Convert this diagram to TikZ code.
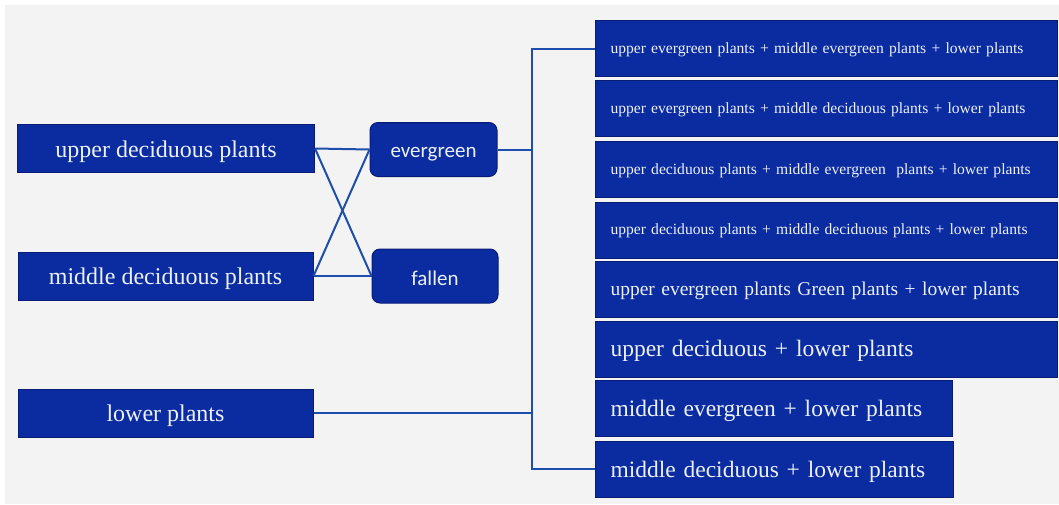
\documentclass[tikz,border=0pt]{standalone}
\usepackage{fontspec}
\setmainfont{Liberation Serif}
\newfontfamily\calfont{Carlito}
\definecolor{veg}{RGB}{10, 44, 160}
\definecolor{vegdark}{RGB}{8, 28, 118}
\definecolor{wire}{RGB}{30, 78, 172}
\definecolor{paper}{RGB}{243, 243, 243}
\definecolor{txt}{RGB}{236, 240, 250}
\newcommand\sinkby[2]{\raisebox{-#1}[\height][\depth]{#2}}
\usetikzlibrary{calc}

\begin{document}
\begin{tikzpicture}[x=1pt,y=-1pt,
	layer/.style={draw=vegdark,fill=veg,text=txt,line width=1pt,inner sep=0pt,
		minimum width=295pt,minimum height=48pt,font=\fontsize{24}{28}\selectfont},
	leaf/.style={draw=vegdark,fill=veg,text=txt,line width=1pt,rounded corners=8pt,
		inner sep=0pt,minimum width=126pt,minimum height=54pt,
		font=\calfont\fontsize{21}{24}\selectfont},
	combo/.style={draw=vegdark,fill=veg,text=txt,line width=1pt,anchor=west,
		inner xsep=15pt,inner ysep=0pt,minimum height=56pt,text width=432pt,align=left},
	branch/.style={draw=wire,line width=2pt}]
	\useasboundingbox (0,0) rectangle (1059,504);
	\fill[white] (0,0) rectangle (1059,504);
	\fill[paper] (5,5) rectangle (1059,504);
	
	% plant layers
	\node[layer,minimum width=297pt] (upper) at (166,148.5) {\sinkby{3pt}{upper deciduous plants}};
	\node[layer] (middle) at (165.5,276) {\sinkby{3pt}{middle deciduous plants}};
	\node[layer] (lower) at (165.5,413) {\sinkby{3pt}{lower plants}};
	
	\node[leaf,minimum width=127pt] (ever) at (433.5,149.5) {\sinkby{5pt}{evergreen}};
	\node[leaf] (fall) at (435,276) {\sinkby{2pt}{fallen}};
	
	% combinations
	\node[combo,font=\fontsize{15.6}{19}\selectfont] (c1) at (595,48.5)
		{\sinkby{1pt}{upper evergreen plants + middle evergreen plants + lower plants}};
	\node[combo,font=\fontsize{15.6}{19}\selectfont] (c2) at (595,108.5)
		{\sinkby{1pt}{upper evergreen plants + middle deciduous plants + lower plants}};
	\node[combo,font=\fontsize{15.6}{19}\selectfont] (c3) at (595,169.5)
		{\sinkby{1pt}{upper deciduous plants + middle evergreen\ \ plants + lower plants}};
	\node[combo,font=\fontsize{15.6}{19}\selectfont] (c4) at (595,230)
		{\sinkby{1pt}{upper deciduous plants + middle deciduous plants + lower plants}};
	\node[combo,font=\fontsize{19.5}{24}\selectfont] (c5) at (595,289)
		{\sinkby{2pt}{upper evergreen plants Green plants + lower plants}};
	\node[combo,font=\fontsize{23.5}{28}\selectfont] (c6) at (595,349)
		{\sinkby{2pt}{upper deciduous + lower plants}};
	\node[combo,font=\fontsize{23.5}{28}\selectfont,text width=327pt] (c7) at (595,408.5)
		{\sinkby{2pt}{middle evergreen + lower plants}};
	\node[combo,font=\fontsize{23.5}{28}\selectfont,text width=328pt] (c8) at (595,469)
		{\sinkby{3pt}{middle deciduous + lower plants}};
	
	% connectors
	\draw[branch] (upper.east) -- (ever.west);
	\draw[branch] (upper.east) -- (fall.west);
	\draw[branch] (middle.east) -- (ever.west);
	\draw[branch] (middle.east) -- (fall.west);
	
	\coordinate (bustop) at (532,48.5);
	\coordinate (busbot) at (532,469);
	\draw[branch] (c1.west) -- (bustop) -- (busbot) -- (c8.west);
	\draw[branch] (ever.east) -- (ever.east -| bustop);
	\draw[branch] ($(fall.east)+(0,3)$) -- ($(fall.east)+(0,3)$ -| bustop);
	\draw[branch] (lower.east) -- (lower.east -| bustop);
\end{tikzpicture}
\end{document}
